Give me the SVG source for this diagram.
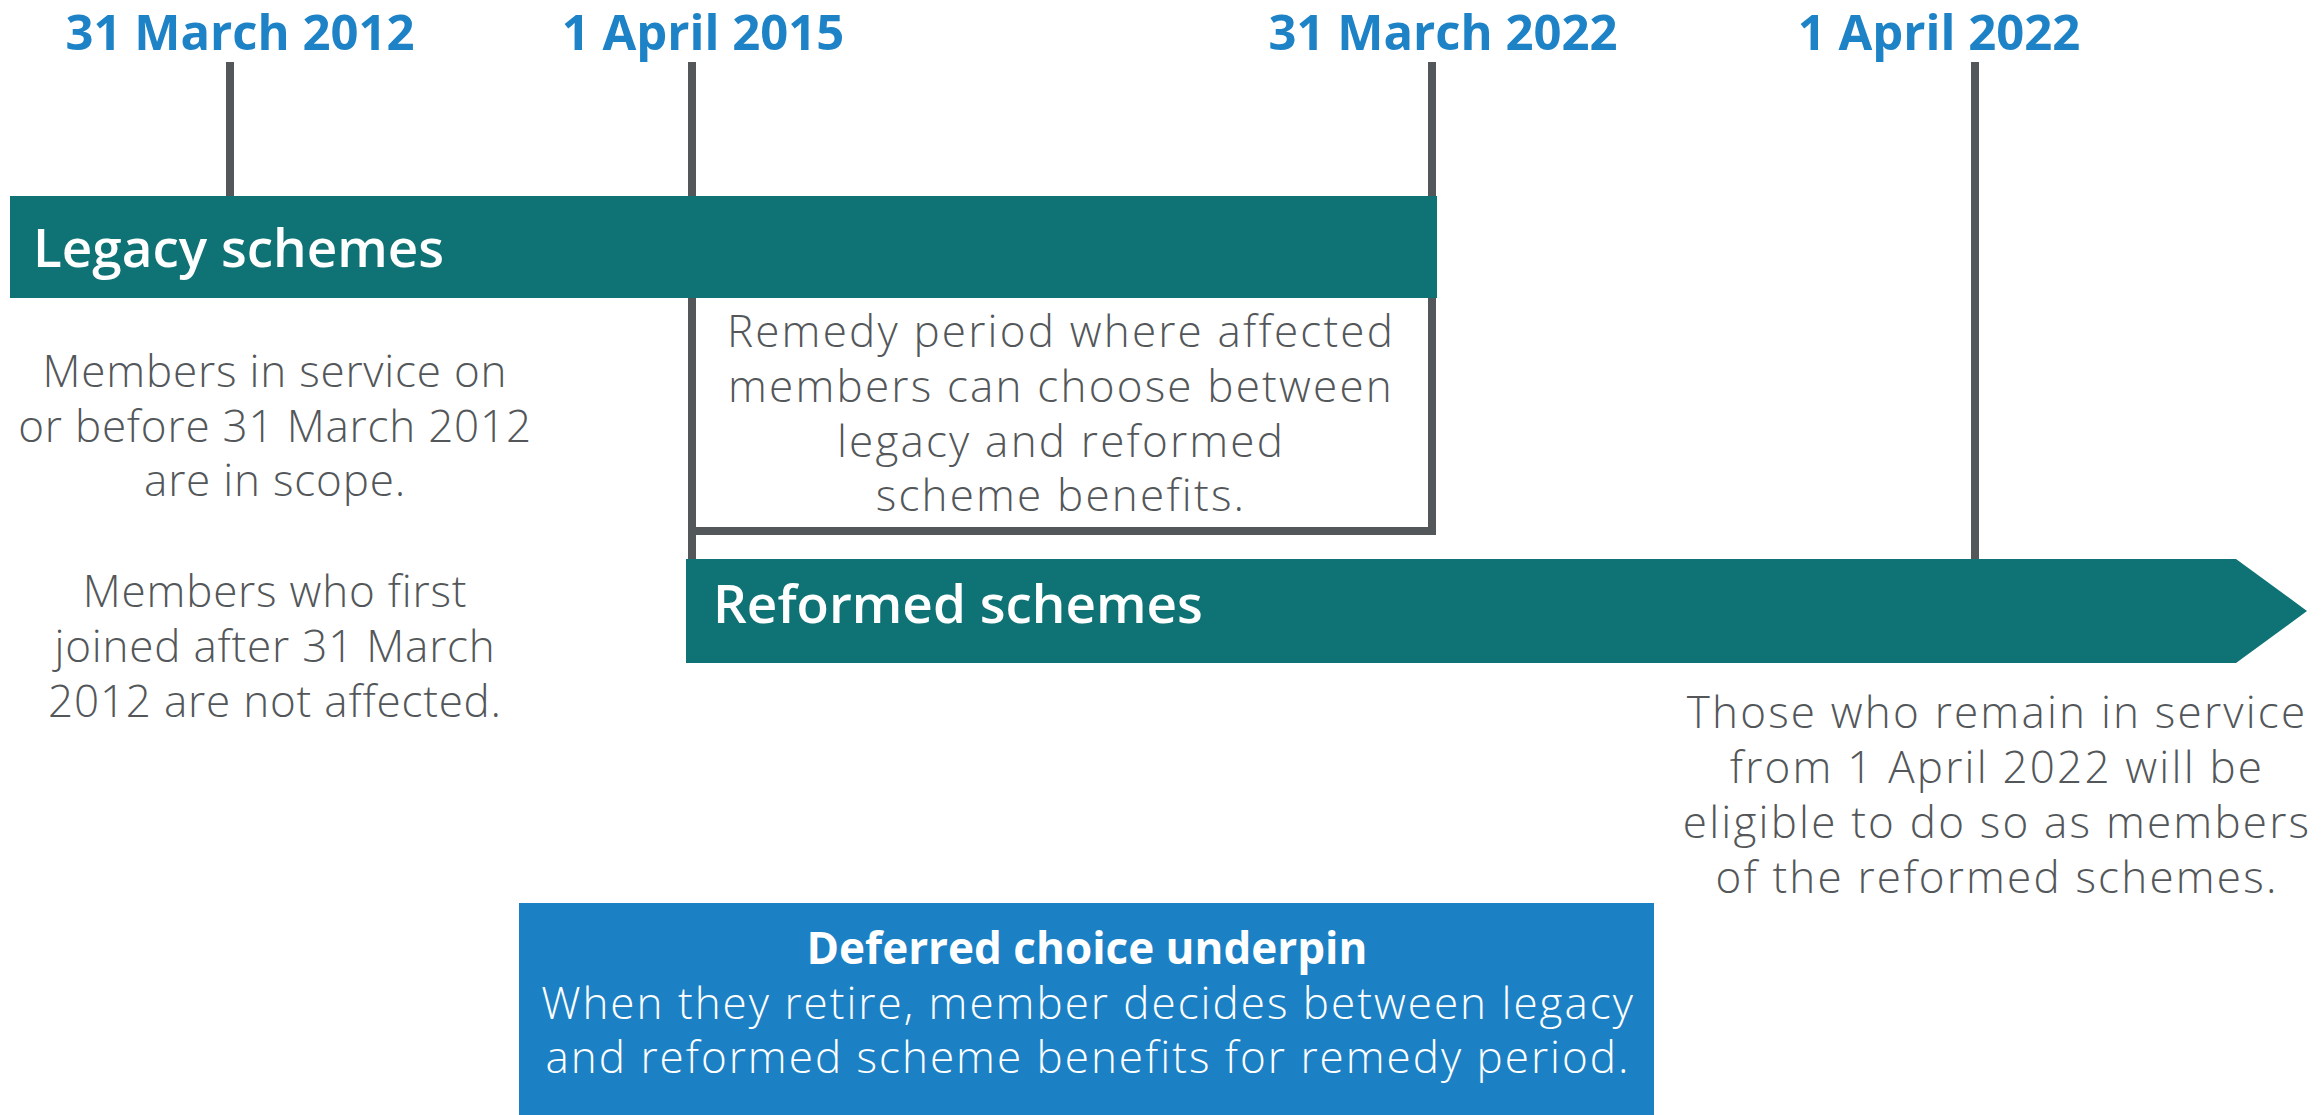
<svg xmlns="http://www.w3.org/2000/svg" width="2322" height="1115" viewBox="0 0 2322 1115">
<style>
.date{font-family:"Open Sans","Liberation Sans",sans-serif;font-weight:700;font-size:49px;fill:#1D83C6;text-anchor:middle}
.bar{fill:#0F7376}
.barlabel{font-family:"Open Sans","Liberation Sans",sans-serif;font-weight:600;font-size:53px;fill:#ffffff}
.body{font-family:"Open Sans","Liberation Sans",sans-serif;font-weight:300;font-size:44px;letter-spacing:2.2px;fill:#53575A;text-anchor:middle}
.left{letter-spacing:0.8px}
.tick{stroke:#53575A;stroke-width:8;fill:none}
.box{fill:#1C81C4}
.boxtitle{font-family:"Open Sans","Liberation Sans",sans-serif;font-weight:700;font-size:44px;fill:#ffffff;text-anchor:middle}
.boxbody{font-family:"Open Sans","Liberation Sans",sans-serif;font-weight:300;font-size:44px;letter-spacing:2px;fill:#ffffff;text-anchor:middle}
</style>
<rect width="2322" height="1115" fill="#ffffff"/>
<g id="connectors">
<line class="tick" x1="230" y1="62" x2="230" y2="200"/>
<line class="tick" x1="692" y1="62" x2="692" y2="562"/>
<line class="tick" x1="1432" y1="62" x2="1432" y2="535"/>
<line class="tick" x1="696" y1="531" x2="1436" y2="531"/>
<line class="tick" x1="1975" y1="62" x2="1975" y2="562"/>
</g>
<g id="dates">
<text class="date" x="240" y="50">31 March 2012</text>
<text class="date" x="703" y="50">1 April 2015</text>
<text class="date" x="1443" y="50">31 March 2022</text>
<text class="date" x="1939" y="50">1 April 2022</text>
</g>
<g id="legacy">
<rect class="bar" x="10" y="196" width="1427" height="102"/>
<text class="barlabel" x="33" y="267">Legacy schemes</text>
</g>
<g id="reformed">
<polygon class="bar" points="686,559 2236,559 2307,611 2236,663 686,663"/>
<text class="barlabel" x="713" y="623">Reformed schemes</text>
</g>
<g id="scope-note">
<text class="body left" x="275" y="387">Members in service on</text>
<text class="body left" x="275" y="442">or before 31 March 2012</text>
<text class="body left" x="275" y="496">are in scope.</text>
<text class="body left" x="275" y="607">Members who first</text>
<text class="body left" x="275" y="662">joined after 31 March</text>
<text class="body left" x="275" y="717">2012 are not affected.</text>
</g>
<g id="remedy-period">
<text class="body" x="1061" y="347">Remedy period where affected</text>
<text class="body" x="1061" y="402">members can choose between</text>
<text class="body" x="1061" y="457">legacy and reformed</text>
<text class="body" x="1061" y="511">scheme benefits.</text>
</g>
<g id="remain-note">
<text class="body" x="1997" y="728">Those who remain in service</text>
<text class="body" x="1997" y="783">from 1 April 2022 will be</text>
<text class="body" x="1997" y="838">eligible to do so as members</text>
<text class="body" x="1997" y="893">of the reformed schemes.</text>
</g>
<g id="deferred-choice">
<rect class="box" x="519" y="903" width="1135" height="212"/>
<text class="boxtitle" x="1087" y="964">Deferred choice underpin</text>
<text class="boxbody" x="1088" y="1019">When they retire, member decides between legacy</text>
<text class="boxbody" x="1088" y="1073">and reformed scheme benefits for remedy period.</text>
</g>
</svg>
